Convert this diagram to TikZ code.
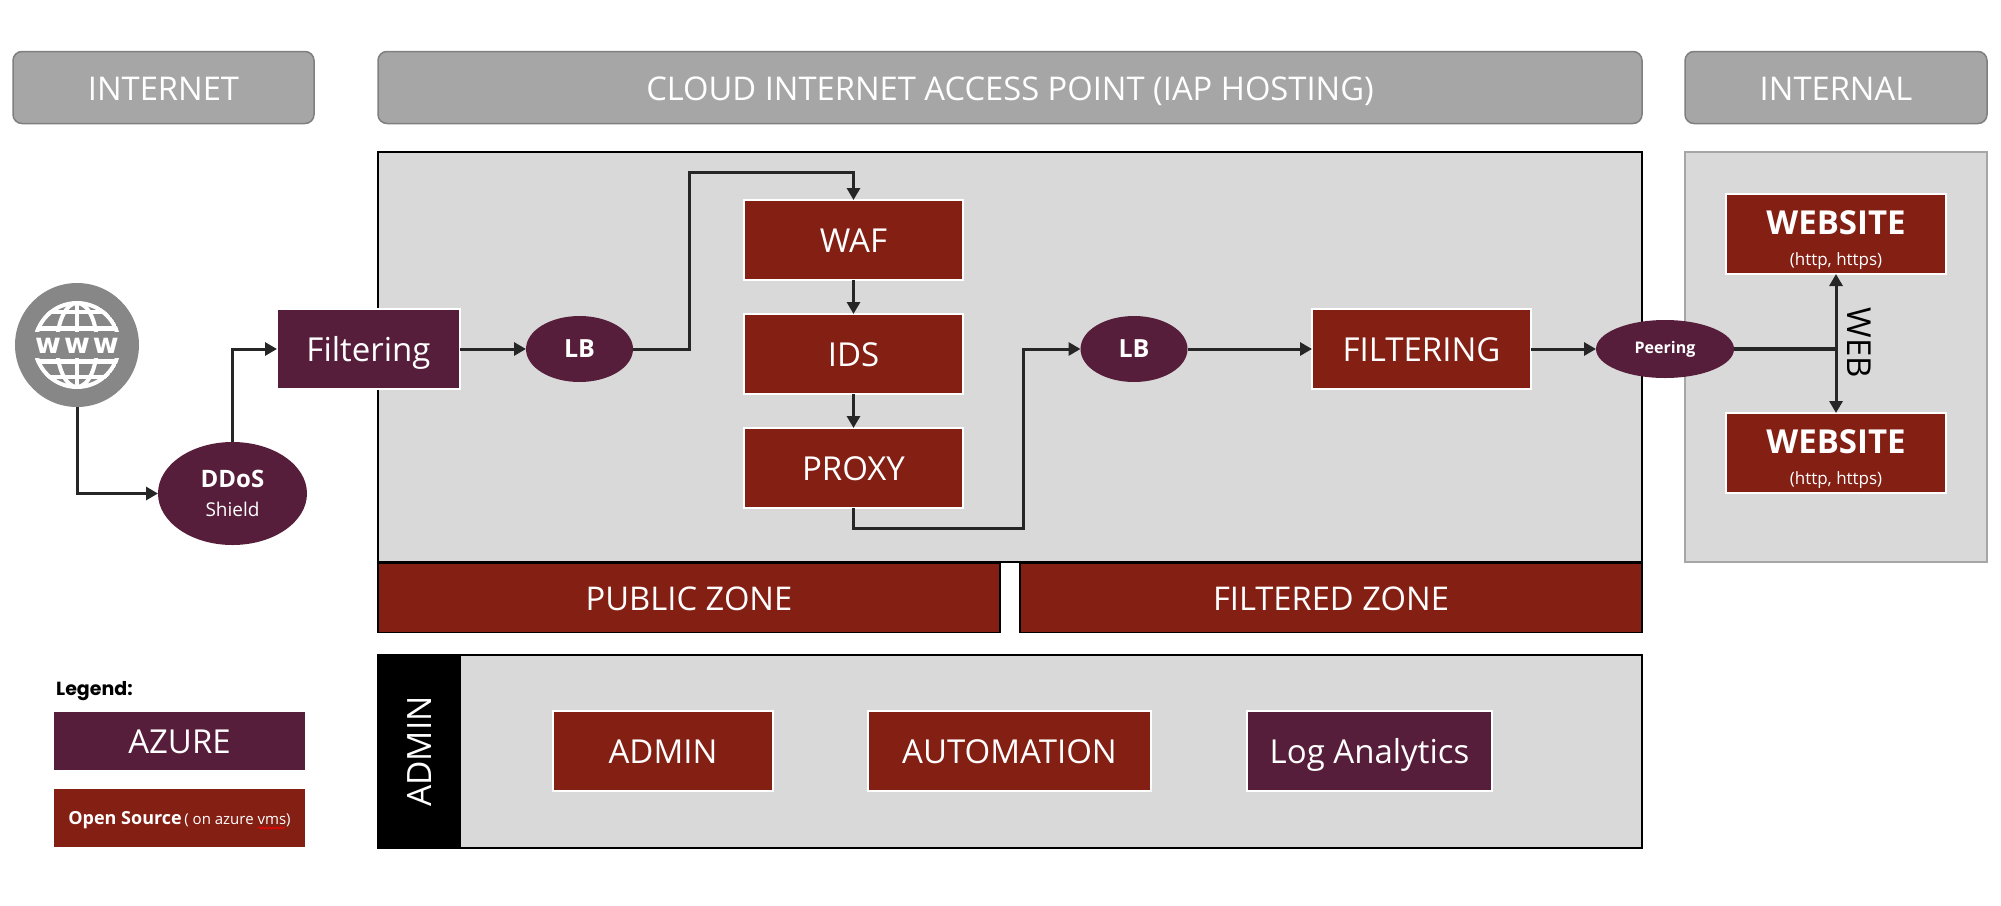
\documentclass[tikz,border=0pt]{standalone}
\usepackage{fontspec}
\setmainfont{Open Sans}
\newfontfamily\legendfont{Poppins}
\newfontfamily\iconfont{DejaVu Sans}
\usetikzlibrary{positioning, arrows.meta, shapes.geometric, decorations.pathmorphing}

\definecolor{plum}{HTML}{561E3A}
\definecolor{rust}{HTML}{841F14}
\definecolor{panel}{HTML}{D9D9D9}
\definecolor{headfill}{HTML}{A6A6A6}
\definecolor{headline}{HTML}{7F7F7F}
\definecolor{wire}{HTML}{262626}

\newcommand{\fsize}[1]{\fontsize{#1}{#1}\selectfont}

\tikzset{
    capfit/.style={text height=25.6pt, text depth=0pt},
    headbox/.style={capfit, draw=headline, fill=headfill, line width=1.5pt, rounded corners=9pt, text=white, font=\fsize{32.7}, minimum height=72pt, inner sep=0pt, outer sep=0pt},
    panelbox/.style={fill=panel, inner sep=0pt, outer sep=0pt},
    zonebox/.style={capfit, draw=black, fill=rust, line width=1.5pt, text=white, font=\fsize{32.7}, minimum height=69pt, minimum width=622pt, inner sep=0pt, outer sep=0pt},
    sitebox/.style={draw=white, fill=rust, line width=2pt, text=white, font=\fsize{33}, minimum height=80pt, minimum width=220pt, inner sep=0pt, outer sep=0pt, align=center},
    redbox/.style={sitebox, capfit},
    plumbox/.style={redbox, fill=plum},
    oval/.style={ellipse, fill=plum, text=white, inner sep=0pt, outer sep=0pt},
    flow/.style={draw=wire, line width=3pt, -{Triangle[length=12pt, width=13pt]}},
    plainwire/.style={draw=wire, line width=3.5pt},
}

\begin{document}
\begin{tikzpicture}[x=1pt, y=-1pt]
    \useasboundingbox (0,0) rectangle (2001,905);

    % headers
    \node [headbox, minimum width=301pt] (hinternet) at (163.5,87.5) {INTERNET};
    \node [headbox, minimum width=1264pt] (hcloud) at (1010,87.5) {CLOUD INTERNET ACCESS POINT (IAP HOSTING)};
    \node [headbox, minimum width=302pt] (hinternal) at (1836,87.5) {INTERNAL};

    % background panels
    \node [panelbox, draw=black, line width=1.5pt, minimum width=1264pt, minimum height=410pt] (publicpanel) at (1010,357) {};
    \node [panelbox, draw=headfill, line width=1.5pt, minimum width=302pt, minimum height=410pt] (internalpanel) at (1836,357) {};
    \node [panelbox, draw=black, line width=1.5pt, minimum width=1264pt, minimum height=193pt] (adminpanel) at (1010,751.5) {};

    % zones
    \node [zonebox] (zonepublic) at (689,598) {PUBLIC ZONE};
    \node [zonebox] (zonefiltered) at (1331,598) {FILTERED ZONE};

    % www globe
    \node [circle, fill=black!47, minimum size=124pt, inner sep=0pt, outer sep=0pt] (www) at (77,345) {};
    \foreach \ytop/\ybot/\ylat/\yband in {295/331/312/328, 358/395/377/361} {
        \begin{scope}
            \clip (77,345) circle (44pt);
            \clip (20,\ytop) rectangle (135,\ybot);
            \draw [white, line width=4pt] (77,345) circle (42pt);
            \draw [white, line width=4pt] (77,345) ellipse (20pt and 42pt);
            \draw [white, line width=4pt] (77,300) -- (77,390);
            \draw [white, line width=4pt] (34,\ylat) -- (120,\ylat);
            \draw [white, line width=5pt] (34,\yband) -- (120,\yband);
        \end{scope}
    }
    \node [text=white, font=\iconfont\bfseries\fsize{28}] (wwwtext) at (77,346) {w\hspace{3pt}w\hspace{3pt}w};

    % left column
    \node [oval, minimum width=149pt, minimum height=103pt, align=center] (ddos) at (232.5,493.5) {{\bfseries\fsize{24}DDoS}\\[13pt]{\fsize{19}Shield}};
    \node [plumbox, minimum width=183pt] (filter) at (368.5,349) {Filtering};

    % public zone
    \node [oval, minimum width=107pt, minimum height=66pt, right=66pt of filter, font=\bfseries\fsize{25}] (lbone) {LB};
    \node [redbox, minimum width=219pt] (waf) at (853.5,240) {WAF};
    \node [redbox, minimum width=219pt, below=34pt of waf] (ids) {IDS};
    \node [redbox, minimum width=219pt, below=34pt of ids] (proxy) {PROXY};
    \coordinate (wafturn) at (689,172);
    \coordinate (dropturn) at (1023,528);

    % filtered zone
    \node [oval, minimum width=107pt, minimum height=66pt, font=\bfseries\fsize{25}] (lbtwo) at (1134,349) {LB};
    \node [redbox, minimum width=219pt] (filtering) at (1421.5,349) {FILTERING};
    \node [oval, minimum width=138pt, minimum height=58pt, font=\bfseries\fsize{16}] (peering) at (1665,349) {Peering};

    % internal
    \node [sitebox] (siteone) at (1836,234) {{\rule{0pt}{37pt}\bfseries\fsize{33}WEBSITE}\\[-2pt]{\fsize{17}(http, https)}};
    \node [sitebox, below=139pt of siteone] (sitetwo) {{\rule{0pt}{37pt}\bfseries\fsize{33}WEBSITE}\\[-2pt]{\fsize{17}(http, https)}};
    \coordinate (webfork) at (peering -| siteone);
    \node [rotate=-90, font=\fsize{33}, text=black] (weblabel) at (1859,343) {WEB};

    % connectors
    \draw [flow] (www.south) |- (ddos.west);
    \draw [flow] (ddos.north) |- (filter.west);
    \draw [flow] (filter) -- (lbone);
    \draw [flow] (lbone.east) -| (wafturn) -| (waf.north);
    \draw [flow] (waf) -- (ids);
    \draw [flow] (ids) -- (proxy);
    \draw [flow] (proxy.south) |- (dropturn) |- (lbtwo.west);
    \draw [flow] (lbtwo) -- (filtering);
    \draw [flow] (filtering) -- (peering);
    \draw [plainwire] (peering.east) -- (webfork);
    \draw [flow] (webfork) -- (siteone);
    \draw [flow] (webfork) -- (sitetwo);

    % admin row
    \node [fill=black, text=white, minimum width=84pt, minimum height=195pt, inner sep=0pt, outer sep=0pt] (adminbar) at (419,751.5) {\rotatebox{90}{\fsize{33.5}ADMIN}};
    \node [redbox, minimum width=220pt] (adminbox) at (663,751) {ADMIN};
    \node [redbox, minimum width=283pt] (automation) at (1009.5,751) {AUTOMATION};
    \node [plumbox, minimum width=245pt] (loganalytics) at (1369.5,751) {Log Analytics};

    % legend
    \node [anchor=west, inner sep=0pt, font=\legendfont\bfseries\fsize{19}] (legendtitle) at (56,691) {Legend:};
    \node [capfit, fill=plum, text=white, font=\fsize{33}, minimum width=251pt, minimum height=58pt, inner sep=0pt, outer sep=0pt] (legendazure) at (179.5,741) {AZURE};
    \node [fill=rust, text=white, text height=13pt, text depth=0pt, minimum width=251pt, minimum height=58pt, inner sep=0pt, outer sep=0pt] (legendopen) at (179.5,818) {{\bfseries\fsize{18}Open Source} {\fsize{15}( on azure vms)}};
    \draw [red, line width=0.9pt, decorate, decoration={snake, amplitude=0.8pt, segment length=3.5pt}] (258,828) -- (285,828);
\end{tikzpicture}
\end{document}
